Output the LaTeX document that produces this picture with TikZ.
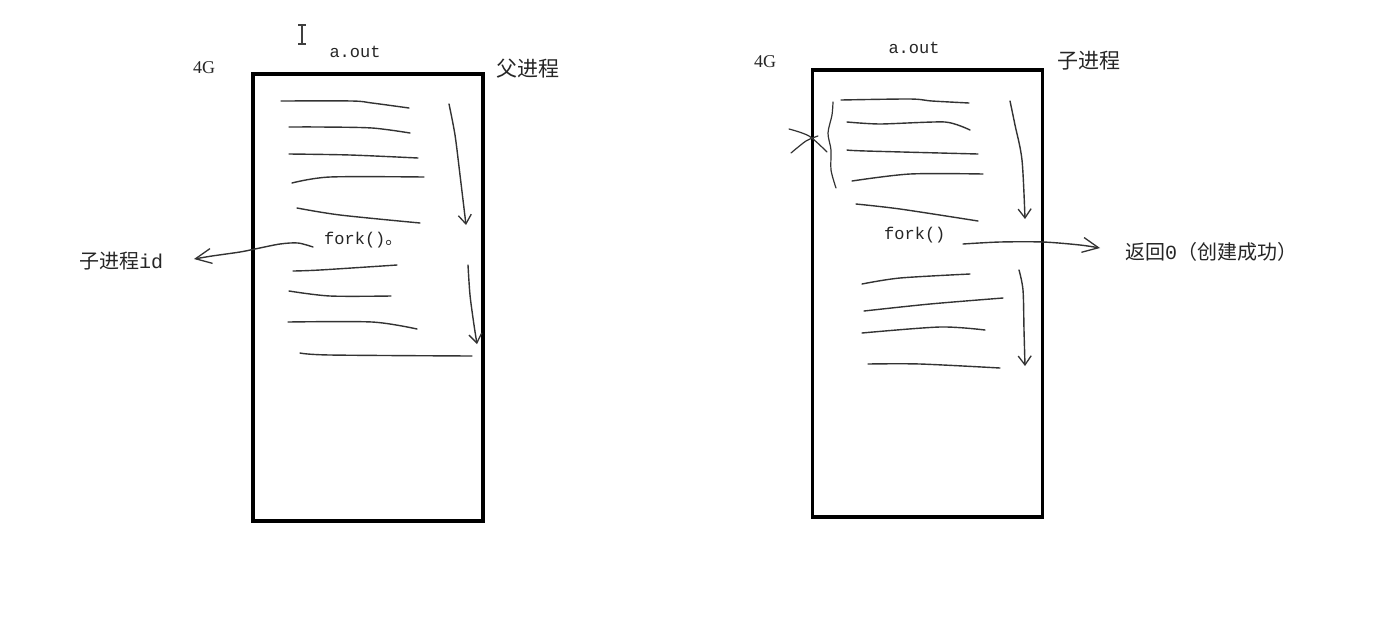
\documentclass[tikz,border=0pt]{standalone}
\usepackage{fontspec}
\setmainfont{Liberation Serif}
\newfontfamily\cjk{Noto Sans CJK SC}
\newfontfamily\mono{Liberation Mono}
\usetikzlibrary{arrows.meta}
\tikzset{
  proc/.style={draw=black, line width=3.2pt, minimum width=230pt, minimum height=447pt, inner sep=0pt},
  pen/.style={draw=black!80, line width=1.4pt, line cap=round, line join=round},
  dnarrow/.style={pen, -{Straight Barb[length=9pt,width=13pt,line width=1.3pt]}},
  bigarrow/.style={pen, -{Straight Barb[length=16pt,width=15pt,line width=1.3pt]}},
  cjktext/.style={inner sep=0pt, font=\cjk\fontsize{20}{24}\selectfont, text=black!85},
  monotext/.style={inner sep=0pt, font=\mono\fontsize{17}{20}\selectfont, text=black!85},
  gtext/.style={inner sep=0pt, font=\fontsize{18}{20}\selectfont, text=black!85}
}
\begin{document}
\begin{tikzpicture}[x=1pt,y=-1pt]
\useasboundingbox (0,0) rectangle (1380,622);
\fill[white] (0,0) rectangle (1380,622);

% ---------- left: parent process ----------
\node[proc] (P) at (368,297.5) {};
\node[gtext] (P4G) at (204,68) {4G};
\node[monotext] (Paout) at (355,52) {a.out};
\node[cjktext, font=\cjk\fontsize{21}{24}\selectfont] (Ptitle) at (528,69) {父进程};
\node[monotext, anchor=west] (Pfork) at (324,240) {fork()\cjk 。};
\node[cjktext, anchor=west] (Pret) at (79,261) {子进程\mono id};

% cursor I-beam
\draw[black!75, line width=1.2pt] (302,25) -- (302,44) (298,25) -- (306,25) (298,44) -- (306,44);

% code lines (parent)
\draw[pen] plot[smooth] coordinates {(281,101) (352,101) (372,103) (409,108)};
\draw[pen] plot[smooth] coordinates {(289,127) (320,127) (372,128) (410,133)};
\draw[pen] plot[smooth] coordinates {(289,154) (350,155) (418,158)};
\draw[pen] plot[smooth] coordinates {(292,183) (330,177) (424,177)};
\draw[pen] plot[smooth] coordinates {(297,208) (340,215) (420,223)};
\draw[pen] plot[smooth] coordinates {(293,271) (320,270) (397,265)};
\draw[pen] plot[smooth] coordinates {(289,291) (330,296) (391,296)};
\draw[pen] plot[smooth] coordinates {(288,322) (372,322) (417,329)};
\draw[pen] plot[smooth] coordinates {(300,353) (330,355) (472,356)};

% flow arrows (parent)
\coordinate (Pa1s) at (449,104);
\coordinate (Pa1e) at (466,225);
\draw[dnarrow] plot[smooth] coordinates {(Pa1s) (455,135) (460,175) (Pa1e)};
\coordinate (Pa2s) at (468,265);
\coordinate (Pa2e) at (477,344);
\draw[dnarrow] plot[smooth] coordinates {(Pa2s) (470,295) (474,325) (Pa2e)};

% fork return in parent
\coordinate (Pfs) at (313,247);
\draw[bigarrow] plot[smooth] coordinates {(Pfs) (298,243) (280,244) (255,249) (240,252) (212,256) (194,259)};

% ---------- right: child process ----------
\node[proc] (C) at (927.5,293.5) {};
\node[gtext] (C4G) at (765,62) {4G};
\node[monotext] (Caout) at (914,48) {a.out};
\node[cjktext, font=\cjk\fontsize{21}{24}\selectfont] (Ctitle) at (1089,61) {子进程};
\node[monotext, anchor=west] (Cfork) at (884,235) {fork()};
\node[cjktext, anchor=west] (Cret) at (1125,252) {返回\mono 0\cjk （创建成功）};

% code lines (child)
\draw[pen] plot[smooth] coordinates {(841,100) (910,99) (932,101) (969,103)};
\draw[pen] plot[smooth, tension=0.4] coordinates {(847,122) (880,124) (945,122) (970,130)};
\draw[pen] plot[smooth] coordinates {(847,150) (866,151) (978,154)};
\draw[pen] plot[smooth] coordinates {(852,181) (910,174) (983,174)};
\draw[pen] plot[smooth] coordinates {(856,204) (900,209) (978,221)};
\draw[pen] plot[smooth] coordinates {(862,284) (900,278) (970,274)};
\draw[pen] plot[smooth] coordinates {(864,311) (930,304) (1003,298)};
\draw[pen] plot[smooth] coordinates {(862,333) (940,327) (985,330)};
\draw[pen] plot[smooth] coordinates {(868,364) (920,364) (1000,368)};

% brace and cross mark
\draw[pen, line width=1.2pt] plot[smooth] coordinates {(833,102) (832,115) (828,133) (831,150) (831,170) (836,188)};
\draw[pen, line width=1.2pt] plot[smooth] coordinates {(789,129) (809,136) (827,152)};
\draw[pen, line width=1.2pt] plot[smooth] coordinates {(791,153) (806,141) (818,136)};

% flow arrows (child)
\coordinate (Ca1s) at (1010,101);
\coordinate (Ca1e) at (1025,219);
\draw[dnarrow] plot[smooth] coordinates {(Ca1s) (1015,125) (1022,160) (Ca1e)};
\coordinate (Ca2s) at (1019,270);
\coordinate (Ca2e) at (1025,366);
\draw[dnarrow] plot[smooth] coordinates {(Ca2s) (1023,290) (1024,330) (Ca2e)};

% fork return in child
\coordinate (Cfs) at (963,244);
\draw[bigarrow] plot[smooth] coordinates {(Cfs) (1000,242) (1043,242) (1080,245) (1100,248)};
\end{tikzpicture}
\end{document}
